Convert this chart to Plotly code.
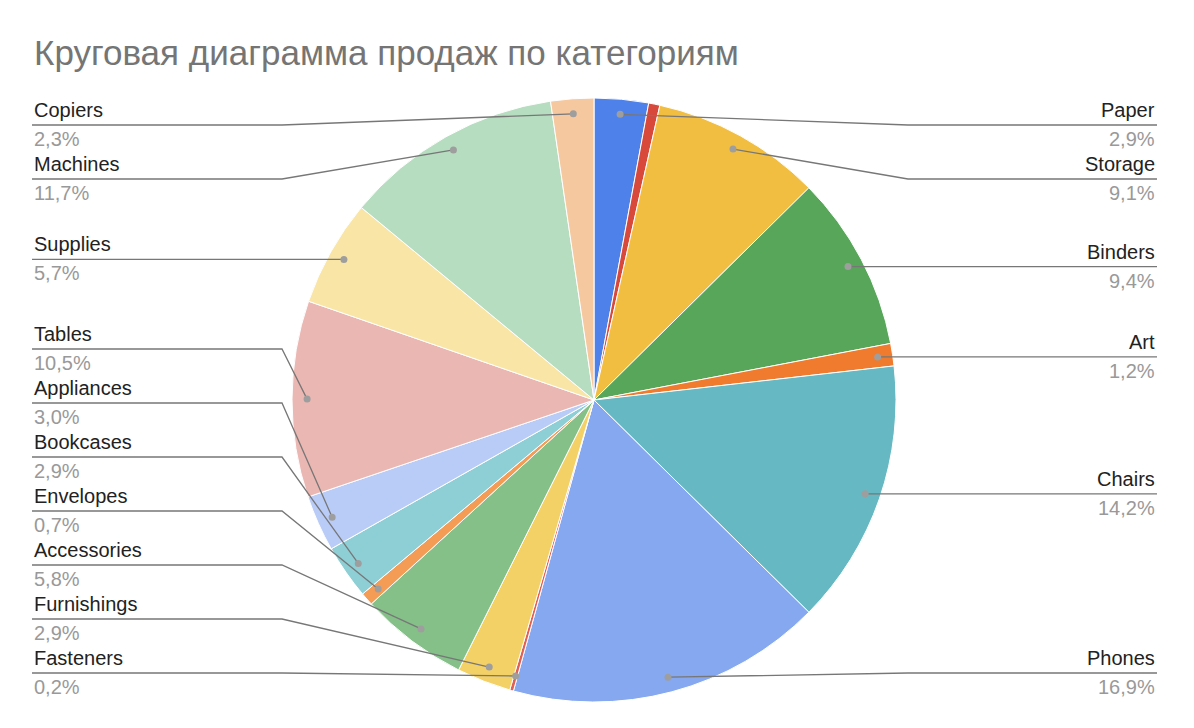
import math
import plotly.graph_objects as go

categories = ["Paper", "Labels", "Storage", "Binders", "Art", "Chairs", "Phones", "Fasteners",
              "Furnishings", "Accessories", "Envelopes", "Bookcases", "Appliances", "Tables",
              "Supplies", "Machines", "Copiers"]
shares = [2.9, 0.6, 9.1, 9.4, 1.2, 14.2, 16.9, 0.2, 2.9, 5.8, 0.7, 2.9, 3.0, 10.5, 5.7, 11.7, 2.3]
labelled = [True, False, True, True, True, True, True, True, True, True, True, True, True, True, True, True, True]
colors = ["#4f81ea", "#d8483b", "#f1be42", "#57a65a", "#f07b2f", "#66b8c2", "#86a8f0", "#e06055",
          "#f4d166", "#84c088", "#f49c55", "#8ecfd6", "#b9cbf7", "#ebb7b2", "#f9e5a6", "#b7ddc0", "#f6c89f"]

OFF = 8  # page body margin
W, H = 1194 - 2 * OFF, 728 - 2 * OFF
cx, cy, R = 594 - OFF, 400 - OFF, 302
fig = go.Figure()
fig.add_trace(go.Pie(labels=categories, values=shares, sort=False, direction="clockwise", rotation=0,
                     marker=dict(colors=colors, line=dict(color="white", width=1)), textinfo="none",
                     domain=dict(x=[(cx - R) / W, (cx + R) / W], y=[1 - (cy + R) / H, 1 - (cy - R) / H]),
                     showlegend=False))

total = sum(shares)
cum = 0
pts = []
for name, v, lab in zip(categories, shares, labelled):
    mid = (cum + v / 2) / total * 2 * math.pi
    cum += v
    if not lab:
        continue
    px = cx + 0.95 * R * math.sin(mid)
    py = cy - 0.95 * R * math.cos(mid)
    pts.append(dict(name=name, v=v, px=px, py=py, right=math.sin(mid) > 0))

ymin, ymax, gap = 125 - OFF, 673 - OFF, 54
for side in (True, False):
    items = sorted([p for p in pts if p["right"] == side], key=lambda p: p["py"])
    ys = [max(p["py"], ymin) for p in items]
    for i in range(1, len(ys)):
        ys[i] = max(ys[i], ys[i - 1] + gap)
    if ys and ys[-1] > ymax:
        ys[-1] = ymax
        for i in range(len(ys) - 2, -1, -1):
            ys[i] = min(ys[i], ys[i + 1] - gap)
    for p, y in zip(items, ys):
        p["ly"] = y

shapes = []
annotations = []
for p in pts:
    if p["right"]:
        xe, xk = 1157 - OFF, 908 - OFF
    else:
        xe, xk = 32 - OFF, 282 - OFF
    shapes.append(dict(type="path", xref="x", yref="y", layer="above",
                       path=f"M{xe},{p['ly']} L{xk},{p['ly']} L{p['px']},{p['py']}",
                       line=dict(color="#777777", width=1.3)))
    shapes.append(dict(type="circle", xref="x", yref="y", layer="above",
                       x0=p["px"] - 3.5, x1=p["px"] + 3.5, y0=p["py"] - 3.5, y1=p["py"] + 3.5,
                       fillcolor="#9e9e9e", line=dict(width=0)))
    anchor = "right" if p["right"] else "left"
    annotations.append(dict(x=xe, y=p["ly"] - 2, xref="x", yref="y", text=p["name"], showarrow=False,
                            xanchor=anchor, yanchor="bottom", xshift=0,
                            font=dict(size=20, color="#222222")))
    annotations.append(dict(x=xe, y=p["ly"] + 1, xref="x", yref="y",
                            text=(f"{p['v']:.1f}%").replace(".", ","), showarrow=False,
                            xanchor=anchor, yanchor="top", font=dict(size=20, color="#999999")))

annotations.append(dict(text="Круговая диаграмма продаж по категориям", x=(32 - OFF) / W,
                        y=1 - (52 - OFF) / H, xref="paper", yref="paper", xanchor="left",
                        yanchor="middle", showarrow=False, font=dict(size=35, color="#757575")))

fig.update_layout(
    width=W, height=H, margin=dict(l=0, r=0, t=0, b=0),
    paper_bgcolor="white", plot_bgcolor="rgba(0,0,0,0)",
    font=dict(family="Liberation Sans, Arial, sans-serif"),
    xaxis=dict(range=[0, W], visible=False, domain=[0, 1], fixedrange=True),
    yaxis=dict(range=[H, 0], visible=False, domain=[0, 1], fixedrange=True),
    shapes=shapes, annotations=annotations,
)
fig.write_html("out.html")
